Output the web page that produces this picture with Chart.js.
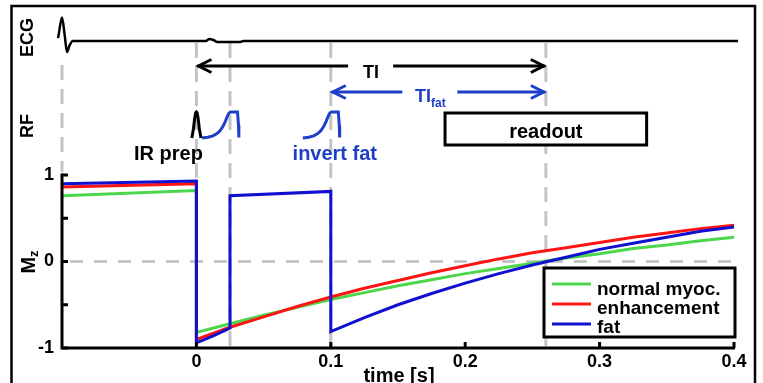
<!DOCTYPE html>
<html>
<head>
<meta charset="utf-8">
<script src="https://cdn.jsdelivr.net/npm/chart.js@4/dist/chart.umd.min.js"></script>
<style>
  html, body { margin: 0; padding: 0; background: #fff; }
  canvas { display: block; }
</style>
</head>
<body>
<canvas id="c" width="763" height="383"></canvas>
<script>
// ---------------- data ----------------
const timePre = [-0.1, 0];
const timeRec = [0, 0.025, 0.05, 0.075, 0.1, 0.125, 0.15, 0.175, 0.2, 0.225, 0.25, 0.275, 0.3, 0.325, 0.35, 0.375, 0.4];
const normalPre = [0.76, 0.82];
const normalRec = [-0.82, -0.72, -0.62, -0.53, -0.44, -0.36, -0.28, -0.21, -0.14, -0.08, -0.02, 0.04, 0.09, 0.15, 0.19, 0.24, 0.28];
const enhPre = [0.86, 0.90];
const enhRec = [-0.90, -0.76, -0.64, -0.52, -0.41, -0.31, -0.22, -0.13, -0.05, 0.03, 0.10, 0.16, 0.22, 0.28, 0.33, 0.38, 0.42];
const fatTime = [-0.1, 0, 0, 0.0125, 0.025, 0.025, 0.1, 0.1, 0.125, 0.15, 0.175, 0.2, 0.225, 0.25, 0.275, 0.3, 0.325, 0.35, 0.375, 0.4];
const fatMz = [0.90, 0.93, -0.94, -0.86, -0.77, 0.76, 0.81, -0.81, -0.65, -0.50, -0.37, -0.25, -0.14, -0.04, 0.05, 0.14, 0.21, 0.28, 0.35, 0.40];
const seriesLabels = ['normal myoc.', 'enhancement', 'fat'];

// ECG trace (time in s, arbitrary amplitude)
const ecgTime = [-0.118, -0.106, -0.103, -0.1, -0.098, -0.0963, -0.0945, -0.092, 0.007, 0.0097, 0.0126, 0.0156, 0.0327, 0.035, 0.403];
const ecgAmp  = [0, -0.04, 0.12, 0.98, 0.25, -0.46, -0.2, 0, 0, 0.08, 0.04, -0.04, -0.04, 0, 0];

// RF pulses
const irPulseTime = 0;
const irShapeDt  = [-0.0034, -0.0022, -0.0013, -0.0005, 0, 0.0005, 0.0013, 0.0022, 0.0034];
const irShapeAmp = [0, 0.35, 0.75, 0.97, 1, 0.97, 0.75, 0.35, 0];
const fatPulseTimes = [0.025, 0.1];
const fatShapeDt  = [-0.0208, -0.0164, -0.0127, -0.0097, -0.0074, -0.0052, -0.0034, -0.0019, -0.0007, 0.0004, 0.0056, 0.0063, 0.0066];
const fatShapeAmp = [0, 0.03, 0.08, 0.17, 0.28, 0.45, 0.65, 0.84, 0.96, 1, 1, 0.5, 0.02];

// timing markers
const markerTimes = [-0.1, 0, 0.025, 0.1, 0.26];
const tiEnd = 0.26;
const tiFatStart = 0.1;
const readoutStart = 0.185;
const readoutEnd = 0.335;

// ticks
const xTicks = [0, 0.1, 0.2, 0.3, 0.4];
const xTickLabels = ['0', '0.1', '0.2', '0.3', '0.4'];
const yTicks = [-1, -0.5, 0, 0.5, 1];
const yTickLabels = ['-1', '', '0', '', '1'];

// ---------------- layout ----------------
const TOP = 30, BOTTOM = 348;
const H = BOTTOM - TOP;
const FONT = '"Liberation Sans", Arial, sans-serif';
const f = (s) => `bold ${s}px ${FONT}`;
const GREEN = '#4cd64c', RED = '#ff1414', BLUE = '#1010d0', TXTBLUE = '#1e40c8';

// axis range helper: value 0 at basePx, unitPx pixels per unit, upward positive
function range(basePx, unitPx) {
  const max = (basePx - TOP) / unitPx;
  return { min: max - H / unitPx, max };
}
const mzUnit = 86.5;
const mzRange = { min: -1, max: -1 + H / mzUnit };
const ecgRange = range(41, 24);
const rfRange = range(138, 26);

const pts = (xs, ys) => xs.map((x, i) => ({ x, y: ys[i] }));
const pulse = (t0, dts, amps) => dts.map((d, i) => ({ x: t0 + d, y: amps[i] }));

const curve = (label, color, xs, ys, order) => ({
  label, data: pts(xs, ys), borderColor: color, borderWidth: 3, showLine: true,
  pointRadius: 0, borderJoinStyle: 'miter', order, inLegend: true, yAxisID: 'y'
});

const datasets = [
  curve(seriesLabels[0], GREEN, timePre.concat(timeRec), normalPre.concat(normalRec), 3),
  curve(seriesLabels[1], RED, timePre.concat(timeRec), enhPre.concat(enhRec), 2),
  curve(seriesLabels[2], BLUE, fatTime, fatMz, 1),
  { label: 'ECG', data: pts(ecgTime, ecgAmp), borderColor: '#000', borderWidth: 2.5, showLine: true,
    pointRadius: 0, yAxisID: 'yECG', clip: false, cubicInterpolationMode: 'monotone', order: 4 },
  { label: 'IR', data: pulse(irPulseTime, irShapeDt, irShapeAmp), borderColor: '#000', borderWidth: 3, showLine: true,
    pointRadius: 0, yAxisID: 'yRF', clip: false, order: 5 },
  ...fatPulseTimes.map(t => ({ label: 'fatRF', data: pulse(t, fatShapeDt, fatShapeAmp), borderColor: TXTBLUE,
    borderWidth: 3, showLine: true, pointRadius: 0, yAxisID: 'yRF', clip: false, order: 5 }))
];

function arrowHead(ctx, tipX, y, dir) {
  ctx.beginPath();
  ctx.moveTo(tipX - dir * 13, y - 6.5);
  ctx.lineTo(tipX, y);
  ctx.lineTo(tipX - dir * 13, y + 6.5);
  ctx.stroke();
}

const overlay = {
  id: 'overlay',
  beforeDraw(chart) {
    const { ctx, width, height } = chart;
    ctx.save();
    ctx.fillStyle = '#fff';
    ctx.fillRect(0, 0, width, height);
    ctx.strokeStyle = '#000';
    ctx.lineWidth = 2.5;
    ctx.strokeRect(11.5, 6, 743.5, 420);
    ctx.restore();
  },
  beforeDatasetsDraw(chart) {
    const { ctx, chartArea } = chart;
    const x = chart.scales.x, y = chart.scales.y;
    ctx.save();
    ctx.strokeStyle = '#c4c4c4';
    ctx.lineWidth = 3;
    ctx.setLineDash([15, 9]);
    markerTimes.forEach((t, i) => {
      const px = x.getPixelForValue(t);
      const top = i === 0 ? 65 : 43;
      const bottom = i === 0 ? y.getPixelForValue(1) - 3 : chartArea.bottom;
      ctx.beginPath(); ctx.moveTo(px, top); ctx.lineTo(px, bottom); ctx.stroke();
    });
    ctx.strokeStyle = '#bdbdbd';
    ctx.lineWidth = 2.5;
    ctx.setLineDash([13, 11]);
    const py0 = y.getPixelForValue(0);
    ctx.beginPath(); ctx.moveTo(chartArea.left + 8, py0); ctx.lineTo(chartArea.right, py0); ctx.stroke();
    ctx.restore();
  },
  afterDatasetsDraw(chart) {
    const { ctx, chartArea } = chart;
    const x = chart.scales.x, y = chart.scales.y;
    ctx.save();
    // axes
    ctx.strokeStyle = '#000';
    ctx.lineWidth = 3;
    ctx.lineCap = 'butt';
    const yTop = y.getPixelForValue(1);
    ctx.beginPath();
    ctx.moveTo(chartArea.left, yTop - 1.5);
    ctx.lineTo(chartArea.left, chartArea.bottom);
    ctx.lineTo(chartArea.right + 1, chartArea.bottom);
    ctx.stroke();
    yTicks.forEach(v => {
      const py = y.getPixelForValue(v);
      ctx.beginPath(); ctx.moveTo(chartArea.left, py); ctx.lineTo(chartArea.left + 6, py); ctx.stroke();
    });
    xTicks.forEach(v => {
      const px = x.getPixelForValue(v);
      ctx.beginPath(); ctx.moveTo(px, chartArea.bottom); ctx.lineTo(px, chartArea.bottom - 6); ctx.stroke();
    });

    // TI arrow
    const x0 = x.getPixelForValue(0), xTi = x.getPixelForValue(tiEnd), xF = x.getPixelForValue(tiFatStart);
    ctx.lineJoin = 'miter';
    const tiY = 66, tiMid = (x0 + xTi) / 2;
    ctx.beginPath();
    ctx.moveTo(x0 + 1, tiY); ctx.lineTo(tiMid - 23, tiY);
    ctx.moveTo(tiMid + 22, tiY); ctx.lineTo(xTi - 1, tiY);
    ctx.stroke();
    arrowHead(ctx, x0 + 2, tiY, -1);
    arrowHead(ctx, xTi - 2, tiY, 1);
    ctx.fillStyle = '#000';
    ctx.font = f(18);
    ctx.textAlign = 'center';
    ctx.textBaseline = 'alphabetic';
    ctx.fillText('TI', tiMid, 78);

    // TI fat arrow
    const tfY = 92, tfMid = (xF + xTi) / 2 - 8;
    ctx.strokeStyle = TXTBLUE;
    ctx.beginPath();
    ctx.moveTo(xF + 1, tfY); ctx.lineTo(tfMid - 28, tfY);
    ctx.moveTo(tfMid + 27, tfY); ctx.lineTo(xTi - 1, tfY);
    ctx.stroke();
    arrowHead(ctx, xF + 2, tfY, -1);
    arrowHead(ctx, xTi - 2, tfY, 1);
    ctx.fillStyle = TXTBLUE;
    ctx.textAlign = 'left';
    ctx.font = f(18);
    const tw = ctx.measureText('TI').width;
    ctx.font = f(12);
    const sw = ctx.measureText('fat').width;
    const tStart = tfMid - (tw + sw) / 2;
    ctx.font = f(18);
    ctx.fillText('TI', tStart, 101.5);
    ctx.font = f(12);
    ctx.fillText('fat', tStart + tw, 107);

    // RF labels
    ctx.textAlign = 'center';
    ctx.font = f(20);
    ctx.fillStyle = '#000';
    ctx.fillText('IR prep', x0 - 28, 160);
    ctx.fillStyle = TXTBLUE;
    ctx.fillText('invert fat', xF + 4, 160);

    // readout box
    const rx0 = x.getPixelForValue(readoutStart), rx1 = x.getPixelForValue(readoutEnd);
    ctx.fillStyle = '#fff';
    ctx.fillRect(rx0, 113, rx1 - rx0, 32);
    ctx.strokeStyle = '#000';
    ctx.lineWidth = 3;
    ctx.strokeRect(rx0, 113, rx1 - rx0, 32);
    ctx.fillStyle = '#000';
    ctx.fillText('readout', (rx0 + rx1) / 2, 138);

    // legend
    const lx = 544, ly = 268, lw = chartArea.right + 1 - 544, lh = 69;
    ctx.fillStyle = '#fff';
    ctx.fillRect(lx, ly, lw, lh);
    ctx.strokeRect(lx, ly, lw, lh);
    const items = chart.data.datasets.filter(d => d.inLegend);
    ctx.textAlign = 'left';
    ctx.font = f(19);
    items.forEach((d, i) => {
      const yy = 284 + i * 20;
      ctx.strokeStyle = d.borderColor;
      ctx.lineWidth = 3;
      ctx.beginPath(); ctx.moveTo(552, yy); ctx.lineTo(591, yy); ctx.stroke();
      ctx.fillStyle = '#000';
      ctx.fillText(d.label, 597, 295 + i * 19);
    });

    // channel labels (rotated)
    const vtext = (parts, baseX, centerY) => {
      ctx.save();
      ctx.translate(baseX, centerY);
      ctx.rotate(-Math.PI / 2);
      ctx.fillStyle = '#000';
      ctx.textAlign = 'left';
      ctx.textBaseline = 'alphabetic';
      let total = 0;
      parts.forEach(p => { ctx.font = f(p.size); p.w = ctx.measureText(p.t).width; total += p.w; });
      let u = -total / 2;
      parts.forEach(p => { ctx.font = f(p.size); ctx.fillText(p.t, u, p.dy || 0); u += p.w; });
      ctx.restore();
    };
    vtext([{ t: 'ECG', size: 18 }], 33, 37.5);
    vtext([{ t: 'RF', size: 18 }], 33, 126);
    vtext([{ t: 'M', size: 20 }, { t: 'z', size: 13, dy: 3 }], 35, 262);

    // x axis title
    ctx.fillStyle = '#000';
    ctx.textAlign = 'center';
    ctx.font = f(20);
    ctx.fillText('time [s]', (chartArea.left + chartArea.right) / 2 + 1, 382);
    ctx.restore();
  }
};

new Chart(document.getElementById('c'), {
  type: 'scatter',
  data: { datasets },
  options: {
    responsive: false,
    devicePixelRatio: 1,
    animation: false,
    events: [],
    layout: { padding: { top: TOP, right: 29, bottom: 0, left: 0 } },
    plugins: { legend: { display: false }, tooltip: { enabled: false } },
    scales: {
      x: {
        type: 'linear', min: -0.1, max: 0.4, bounds: 'data',
        grid: { display: false, drawTicks: false },
        border: { display: false },
        afterBuildTicks: s => { s.ticks = xTicks.map(v => ({ value: v })); },
        afterFit: s => { s.height = 383 - BOTTOM; },
        ticks: {
          autoSkip: false, maxRotation: 0, padding: 3, color: '#000',
          font: { family: FONT, size: 18, weight: 'bold' },
          callback: (v, i) => xTickLabels[i]
        }
      },
      y: {
        type: 'linear', position: 'left', min: mzRange.min, max: mzRange.max, bounds: 'data',
        grid: { display: false, drawTicks: false },
        border: { display: false },
        afterBuildTicks: s => { s.ticks = yTicks.map(v => ({ value: v })); },
        afterFit: s => { s.width = 62; },
        ticks: {
          autoSkip: false, padding: 8, color: '#000',
          font: { family: FONT, size: 18, weight: 'bold' },
          callback: (v, i) => yTickLabels[i]
        }
      },
      yECG: { type: 'linear', display: false, min: ecgRange.min, max: ecgRange.max, bounds: 'data' },
      yRF: { type: 'linear', display: false, min: rfRange.min, max: rfRange.max, bounds: 'data' }
    }
  },
  plugins: [overlay]
});
</script>
</body>
</html>
